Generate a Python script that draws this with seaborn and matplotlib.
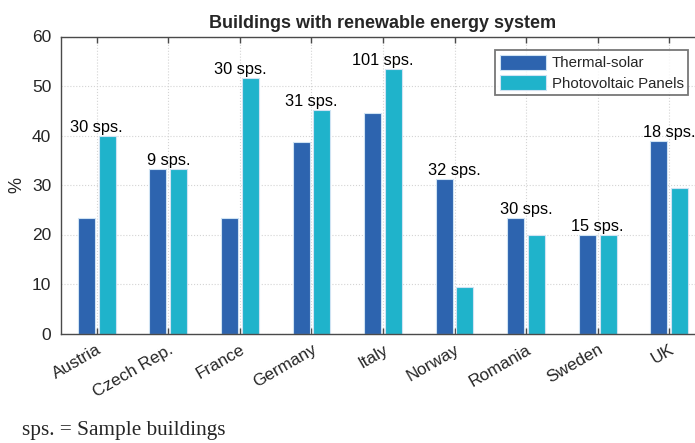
import pandas as pd
import seaborn as sns
import matplotlib.pyplot as plt

countries = ["Austria", "Czech Rep.", "France", "Germany", "Italy",
             "Norway", "Romania", "Sweden", "UK"]
thermal_solar = [23.3, 33.3, 23.3, 38.7, 44.5, 31.2, 23.3, 20.0, 38.9]
photovoltaic = [40.0, 33.3, 51.6, 45.2, 53.5, 9.4, 20.0, 20.0, 29.4]
sample_labels = ["30 sps.", "9 sps.", "30 sps.", "31 sps.", "101 sps.",
                 "32 sps.", "30 sps.", "15 sps.", "18 sps."]
series_names = ["Thermal-solar", "Photovoltaic Panels"]

df = pd.DataFrame({
    "Country": countries * 2,
    "Value": thermal_solar + photovoltaic,
    "System": [series_names[0]] * len(countries) + [series_names[1]] * len(countries),
})

sns.set_theme(style="white")
plt.rcParams["font.family"] = ["Liberation Sans", "DejaVu Sans"]

fig = plt.figure(figsize=(6.95, 4.43), dpi=100)
ax = fig.add_axes([61 / 695, (443 - 333.5) / 443, 644 / 695, 297 / 443])

sns.barplot(data=df, x="Country", y="Value", hue="System", order=countries,
            hue_order=series_names, palette=["#2D64AF", "#1FB3CB"],
            width=0.58, gap=0.18, edgecolor="#cfe3f3", linewidth=0.8,
            saturation=1, ax=ax)

# label "N sps." above the taller bar of each country
for i, lab in enumerate(sample_labels):
    top = max(thermal_solar[i], photovoltaic[i])
    ax.annotate(lab, (i, top), xytext=(0, 0.5), textcoords="offset points",
                ha="center", va="bottom", fontsize=11.8, color="black",
                annotation_clip=False)

ax.set_xlim(-0.5, len(countries) - 0.5)
ax.set_ylim(0, 60)
ax.set_yticks(range(0, 61, 10))
ax.set_xlabel("")
ax.set_ylabel("%", fontsize=13, color="#262626", labelpad=5)
ax.set_title("Buildings with renewable energy system", fontsize=13,
             fontweight="bold", pad=6)

ax.grid(True, linestyle=":", color="#d4d4d4", linewidth=0.8)
ax.set_axisbelow(True)
for s in ax.spines.values():
    s.set_color("#4a4a4a")
    s.set_linewidth(1.0)

ax.tick_params(axis="x", direction="in", length=4, width=1, color="#4a4a4a",
               top=True, bottom=True, labelsize=12.3, labelcolor="#262626", pad=6)
ax.tick_params(axis="y", length=0, labelsize=12.5, labelcolor="#262626", pad=7)
plt.setp(ax.get_xticklabels(), rotation=30, ha="right", rotation_mode="anchor")

leg = ax.legend(loc="upper right", bbox_to_anchor=(688 / 695, 393 / 443),
                bbox_transform=fig.transFigure, fontsize=10.8, frameon=True,
                fancybox=False, edgecolor="#555555", handlelength=3.1,
                handleheight=1.2, borderpad=0.3, labelspacing=0.3,
                handletextpad=0.35, borderaxespad=0)
leg.get_frame().set_linewidth(1.3)

fig.text(22 / 695, 1 - 431 / 443, "sps. = Sample buildings", fontsize=15.3,
         family=["Liberation Serif", "DejaVu Serif"], va="center", ha="left")

fig.savefig("out.png", dpi=100)
